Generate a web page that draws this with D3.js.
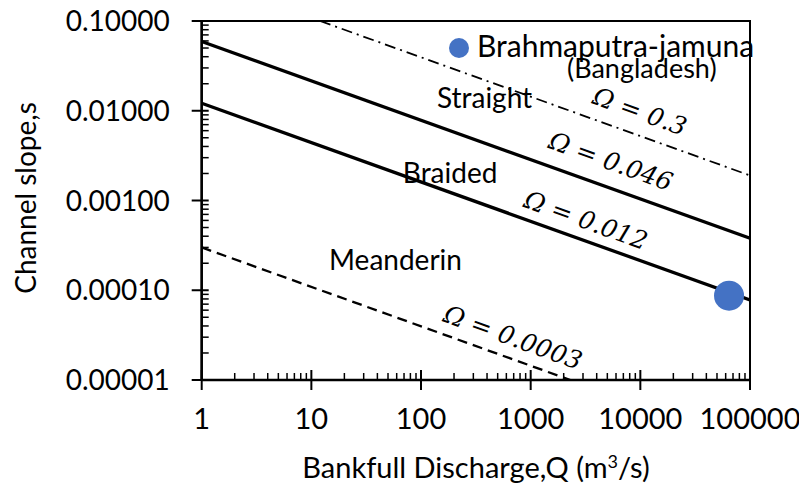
<!DOCTYPE html>
<html lang="en">
<head>
<meta charset="utf-8">
<title>Channel slope vs bankfull discharge</title>
<script src="https://cdn.jsdelivr.net/npm/d3@7"></script>
<style>
  body { margin: 0; background: #fff; }
  text { font-family: Lato, "Noto Sans", sans-serif; fill: #000; }
  .omega { font-family: "DejaVu Serif", serif; font-style: italic; }
</style>
</head>
<body>
<script>
// Data
var xTicks = [1, 10, 100, 1000, 10000, 100000];
var yTicks = [0.00001, 0.0001, 0.001, 0.01, 0.1];

// Omega lines: start and end (Q, s)
var omegaNames = ["0.3", "0.046", "0.012", "0.0003"];
var lineStartQ = [12, 1, 1, 1];
var lineStartS = [0.1, 0.059, 0.0121, 0.0003];
var lineEndQ = [100000, 100000, 100000, 2300];
var lineEndS = [0.0019, 0.00038, 0.000078, 0.00001];
var lineStyle = ["dashdot", "solid", "solid", "dash"];
// label anchor (Q, s) for each omega label
var labelQ = [9900, 5380, 3190, 689];
var labelS = [0.0099, 0.00275, 0.000607, 0.00003];

// river point
var riverQ = [64400];
var riverS = [0.000087];

// region names
var regionNames = ["Straight", "Braided", "Meanderin"];
var regionQ = [139.6, 68.3, 14.5];
var regionS = [0.01074, 0.001567, 0.000168];

var w = 799, h = 487;
var pLeft = 201.7, pRight = 750, pTop = 21, pBottom = 380;

var svg = d3.select("body").append("svg")
  .attr("width", w)
  .attr("height", h);

var x = d3.scaleLog().domain([1, 100000]).range([pLeft, pRight]);
var y = d3.scaleLog().domain([0.00001, 0.1]).range([pBottom, pTop]);

// minor ticks
function minors(lo, hi) {
  var out = [];
  for (var d = lo; d < hi * 0.999; d *= 10) {
    for (var k = 2; k <= 9; k++) out.push(d * k);
  }
  return out;
}
var xMinor = minors(1, 100000);
var yMinor = minors(0.00001, 0.1);

// plot border (top, right)
svg.append("rect")
  .attr("x", pLeft).attr("y", pTop)
  .attr("width", pRight - pLeft).attr("height", pBottom - pTop)
  .attr("fill", "none").attr("stroke", "#000").attr("stroke-width", 2);

// x axis
var xAxis = svg.append("g").attr("transform", "translate(0," + pBottom + ")");
xAxis.append("line").attr("x1", pLeft).attr("x2", pRight)
  .attr("stroke", "#000").attr("stroke-width", 2.5);
xAxis.selectAll(".minor").data(xMinor).enter().append("line")
  .attr("x1", function(d) { return x(d); }).attr("x2", function(d) { return x(d); })
  .attr("y1", -7).attr("y2", 0)
  .attr("stroke", "#000").attr("stroke-width", 1.5);
xAxis.selectAll(".major").data(xTicks).enter().append("line")
  .attr("x1", function(d) { return x(d); }).attr("x2", function(d) { return x(d); })
  .attr("y1", -10).attr("y2", 10)
  .attr("stroke", "#000").attr("stroke-width", 2);
xAxis.selectAll(".lab").data(xTicks).enter().append("text")
  .attr("x", function(d) { return x(d); })
  .attr("y", 49)
  .attr("text-anchor", "middle")
  .style("font-size", "29px")
  .text(function(d) { return d; });

// y axis
var yAxis = svg.append("g").attr("transform", "translate(" + pLeft + ",0)");
yAxis.append("line").attr("y1", pTop).attr("y2", pBottom)
  .attr("stroke", "#000").attr("stroke-width", 2.5);
yAxis.selectAll(".minor").data(yMinor).enter().append("line")
  .attr("y1", function(d) { return y(d); }).attr("y2", function(d) { return y(d); })
  .attr("x1", 0).attr("x2", 7)
  .attr("stroke", "#000").attr("stroke-width", 1.5);
yAxis.selectAll(".major").data(yTicks).enter().append("line")
  .attr("y1", function(d) { return y(d); }).attr("y2", function(d) { return y(d); })
  .attr("x1", -10).attr("x2", 7)
  .attr("stroke", "#000").attr("stroke-width", 2);
yAxis.selectAll(".lab").data(yTicks).enter().append("text")
  .attr("x", -32)
  .attr("y", function(d) { return y(d); })
  .attr("dy", "0.36em")
  .attr("text-anchor", "end")
  .style("font-size", "28px")
  .text(d3.format(".5f"));

// axis titles
svg.append("text")
  .attr("x", 476).attr("y", 478)
  .attr("text-anchor", "middle")
  .style("font-size", "29px")
  .html("Bankfull Discharge,Q (m<tspan dy='-10' style='font-size:18px'>3</tspan><tspan dy='10'>/s)</tspan>");

svg.append("text")
  .attr("transform", "translate(36,198) rotate(-90)")
  .attr("text-anchor", "middle")
  .style("font-size", "28px")
  .text("Channel slope,s");

// omega lines
svg.append("clipPath").attr("id", "plotclip")
  .append("rect").attr("x", pLeft).attr("y", pTop)
  .attr("width", pRight - pLeft).attr("height", pBottom - pTop);

var dashes = { solid: null, dash: "10,6", dashdot: "11,5,2,5" };
var widths = { solid: 3.3, dash: 2.3, dashdot: 1.8 };

svg.append("g").attr("clip-path", "url(#plotclip)")
  .selectAll("line").data(omegaNames).enter().append("line")
  .attr("x1", function(d, i) { return x(lineStartQ[i]); })
  .attr("y1", function(d, i) { return y(lineStartS[i]); })
  .attr("x2", function(d, i) { return x(lineEndQ[i]); })
  .attr("y2", function(d, i) { return y(lineEndS[i]); })
  .attr("stroke", "#000")
  .attr("stroke-width", function(d, i) { return widths[lineStyle[i]]; })
  .attr("stroke-dasharray", function(d, i) { return dashes[lineStyle[i]]; });

// omega labels
var angle = Math.atan2(y(lineEndS[1]) - y(lineStartS[1]), x(lineEndQ[1]) - x(lineStartQ[1])) * 180 / Math.PI;
svg.selectAll(".omega").data(omegaNames).enter().append("text")
  .attr("class", "omega")
  .attr("transform", function(d, i) {
    return "translate(" + x(labelQ[i]) + "," + y(labelS[i]) + ") rotate(" + angle + ")";
  })
  .attr("text-anchor", "middle")
  .attr("dy", "0.35em")
  .style("font-size", "25px")
  .text(function(d) { return "\u03A9 = " + d; });

// region labels
svg.selectAll(".region").data(regionNames).enter().append("text")
  .attr("x", function(d, i) { return x(regionQ[i]); })
  .attr("y", function(d, i) { return y(regionS[i]); })
  .style("font-size", "28px")
  .text(function(d) { return d; });

// river point
svg.selectAll(".river").data(riverQ).enter().append("circle")
  .attr("cx", function(d) { return x(d); })
  .attr("cy", function(d, i) { return y(riverS[i]); })
  .attr("r", 15)
  .attr("fill", "#4472C4");

// legend
svg.append("circle").attr("cx", 459).attr("cy", 48).attr("r", 10).attr("fill", "#4472C4");
svg.append("text").attr("x", 477).attr("y", 57)
  .style("font-size", "30px").text("Brahmaputra-jamuna");
svg.append("text").attr("x", 567).attr("y", 78)
  .style("font-size", "27px").text("(Bangladesh)");
</script>
</body>
</html>
